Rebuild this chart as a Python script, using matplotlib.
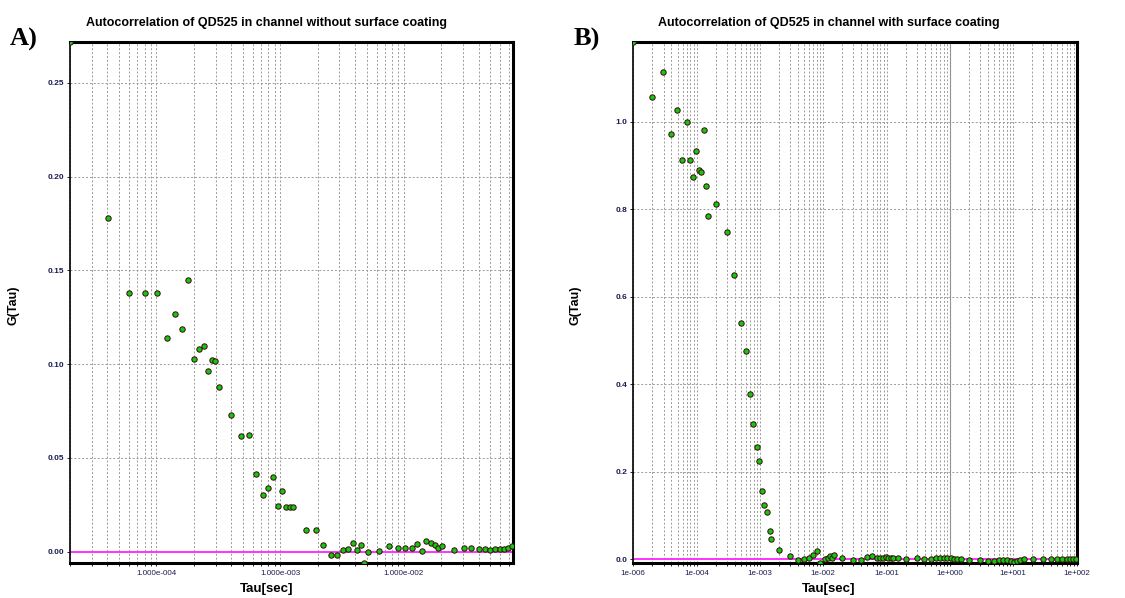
import numpy as np
import matplotlib
matplotlib.use("Agg")
import matplotlib.pyplot as plt
from matplotlib.ticker import FixedLocator, FixedFormatter, LogLocator, NullFormatter

# ============================================================
# DATA
# ============================================================

# A) without surface coating
tau_a = [2.0e-5, 4.03e-5, 6.0e-5, 8.0e-5, 1.01e-4, 1.205e-4, 1.40e-4, 1.60e-4, 1.81e-4,
         2.02e-4, 2.22e-4, 2.41e-4, 2.61e-4, 2.81e-4, 2.99e-4, 3.20e-4, 3.97e-4,
         4.79e-4, 5.62e-4, 6.40e-4, 7.21e-4, 7.96e-4, 8.73e-4, 9.58e-4, 1.04e-3,
         1.12e-3, 1.20e-3, 1.27e-3, 1.61e-3, 1.93e-3, 2.22e-3, 2.55e-3, 2.85e-3,
         3.20e-3, 3.53e-3, 3.85e-3, 4.15e-3, 4.47e-3, 4.79e-3, 5.09e-3, 6.32e-3,
         7.62e-3, 8.89e-3, 1.02e-2, 1.15e-2, 1.28e-2, 1.40e-2, 1.51e-2, 1.64e-2,
         1.77e-2, 1.90e-2, 2.02e-2, 2.55e-2, 3.03e-2, 3.51e-2, 4.03e-2, 4.50e-2,
         4.97e-2, 5.48e-2, 5.98e-2, 6.48e-2, 6.98e-2, 7.52e-2]
g_a = [0.272, 0.178, 0.138, 0.1377, 0.138, 0.114, 0.127, 0.119, 0.1448,
       0.103, 0.108, 0.1095, 0.0965, 0.102, 0.1015, 0.088, 0.0729,
       0.0615, 0.062, 0.0412, 0.0304, 0.034, 0.0396, 0.0245, 0.0322,
       0.024, 0.024, 0.024, 0.0114, 0.0114, 0.0037, -0.0018, -0.002,
       0.0009, 0.0014, 0.0048, 0.0007, 0.0037, -0.0059, -0.0004, 0.0005,
       0.003, 0.0021, 0.0021, 0.0018, 0.0039, 0.0004, 0.0057, 0.0044,
       0.0034, 0.0021, 0.003, 0.0007, 0.0021, 0.0021, 0.0016, 0.0016,
       0.0009, 0.0016, 0.0016, 0.0016, 0.0018, 0.003]

# B) with surface coating
tau_b = [1.0e-5, 2.0e-5, 2.98e-5, 3.94e-5, 4.83e-5, 5.80e-5, 7.04e-5, 7.94e-5, 8.85e-5,
         9.88e-5, 1.09e-4, 1.19e-4, 1.29e-4, 1.39e-4, 1.49e-4, 2.0e-4, 2.98e-4,
         3.94e-4, 4.96e-4, 5.94e-4, 7.04e-4, 7.85e-4, 8.97e-4, 9.76e-4, 1.09e-3,
         1.17e-3, 1.30e-3, 1.42e-3, 1.49e-3, 1.97e-3, 2.94e-3, 3.93e-3, 4.89e-3,
         5.86e-3, 6.87e-3, 8.04e-3, 8.97e-3, 1.06e-2, 1.17e-2, 1.29e-2, 1.37e-2,
         1.47e-2, 1.95e-2, 2.94e-2, 3.98e-2, 5.0e-2, 5.94e-2, 6.95e-2, 7.85e-2,
         8.86e-2, 9.76e-2, 0.106, 0.117, 0.127, 0.149, 0.2, 0.298, 0.394, 0.495,
         0.594, 0.695, 0.804, 0.908, 1.03, 1.16, 1.31, 1.49, 2.0, 2.98, 3.93,
         4.96, 5.94, 6.95, 8.04, 9.08, 10.3, 11.6, 12.9, 14.9, 20.2, 29.8, 39.4,
         50.1, 60.1, 70.3, 79.4, 88.5, 97.5]
g_b = [1.183, 1.056, 1.114, 0.973, 1.028, 0.913, 0.999, 0.913, 0.874,
       0.934, 0.889, 0.885, 0.981, 0.853, 0.784, 0.813, 0.747,
       0.651, 0.540, 0.476, 0.377, 0.309, 0.256, 0.224, 0.156,
       0.124, 0.108, 0.065, 0.046, 0.021, 0.007, -0.001, 0.0015,
       0.004, 0.009, 0.020, -0.0076, 0.0015, 0.004, 0.0076, 0.004,
       0.011, 0.004, -0.001, -0.001, 0.005, 0.007, 0.004, 0.004,
       0.004, 0.006, 0.004, 0.004, 0.002, 0.004, 0.0015, 0.002, 0.0015, 0.0015,
       0.002, 0.002, 0.002, 0.002, 0.002, 0.0015, 0.0015, 0.0, -0.001, -0.002, -0.004,
       -0.004, -0.002, -0.001, -0.002, -0.004, -0.005, -0.004, -0.001, 0.0015, 0.0015, 0.0015, 0.0015,
       0.0015, 0.0015, 0.0015, 0.0015, 0.0015, 0.0015]

ticks_a = [1e-4, 1e-3, 1e-2]
ticklabels_a = ["1.000e-004", "1.000e-003", "1.000e-002"]
yticks_a = [0.0, 0.05, 0.10, 0.15, 0.20, 0.25]

ticks_b = [1e-5, 1e-4, 1e-3, 1e-2, 1e-1, 1e0, 1e1, 1e2]
ticklabels_b = ["1e-006", "1e-004", "1e-003", "1e-002", "1e-001", "1e+000", "1e+001", "1e+002"]
yticks_b = [0.0, 0.2, 0.4, 0.6, 0.8, 1.0]

titles = ["Autocorrelation of QD525 in channel without surface coating",
          "Autocorrelation of QD525 in channel with surface coating"]

# ============================================================
# FIGURE
# ============================================================

narrow = ["Liberation Sans Narrow", "Liberation Sans", "DejaVu Sans"]
plt.rcParams["font.family"] = narrow

fig = plt.figure(figsize=(11.25, 5.98), dpi=100)
ax_a = fig.add_axes([70 / 1125, 1 - 562.7 / 598, (513 - 70) / 1125, (562.7 - 41.7) / 598])
ax_b = fig.add_axes([633.3 / 1125, 1 - 562.7 / 598, (1076.5 - 633.3) / 1125, (562.7 - 41.7) / 598])

tick_col = "#1c1c50"


def style_axes(ax, xlim, ylim, xt, xtl, yt, ytl):
    ax.set_xscale("log")
    ax.set_xlim(*xlim)
    ax.set_ylim(*ylim)
    ax.xaxis.set_major_locator(FixedLocator(xt))
    ax.xaxis.set_major_formatter(FixedFormatter(xtl))
    ax.xaxis.set_minor_locator(LogLocator(base=10, subs=np.arange(2, 10), numticks=20))
    ax.xaxis.set_minor_formatter(NullFormatter())
    ax.set_yticks(yt)
    ax.set_yticklabels(ytl)
    ax.grid(True, which="both", axis="x", color="#9a9a9a", linestyle=(0, (2, 2)), linewidth=0.7)
    ax.grid(True, which="major", axis="y", color="#9a9a9a", linestyle=(0, (2, 2)), linewidth=0.7)
    ax.tick_params(axis="both", which="both", labelsize=6, labelcolor=tick_col,
                   length=2.5, width=0.6, pad=2)
    ax.tick_params(axis="x", labelsize=5.8, pad=3)
    for lab in ax.get_yticklabels():
        lab.set_fontweight("bold")
    ax.spines["left"].set_linewidth(1.2)
    for s in ["top", "right", "bottom"]:
        ax.spines[s].set_linewidth(2.2)
    ax.axhline(0, color="#ff33ff", linewidth=1.4, zorder=2)


style_axes(ax_a, (2e-5, 7.6e-2), (-0.0059, 0.272), ticks_a, ticklabels_a,
           yticks_a, ["0.00", "0.05", "0.10", "0.15", "0.20", "0.25"])
style_axes(ax_b, (1e-5, 1e2), (-0.0076, 1.183), ticks_b, ticklabels_b,
           yticks_b, ["0.0", "0.2", "0.4", "0.6", "0.8", "1.0"])
ax_b.axvline(1.0, color="#8c8c8c", linewidth=0.8, zorder=1)

for ax, t, g in [(ax_a, tau_a, g_a), (ax_b, tau_b, g_b)]:
    ax.scatter(t, g, s=15, color="#12c812", edgecolors="#3a0808", linewidths=0.7, zorder=3)

# titles, axis labels and panel letters
fig.text(266 / 1125, 1 - 23 / 598, titles[0], ha="center", va="center",
         fontsize=9, fontweight="bold")
fig.text(829 / 1125, 1 - 23 / 598, titles[1], ha="center", va="center",
         fontsize=9, fontweight="bold")
fig.text(267 / 1125, 1 - 589 / 598, "Tau[sec]", ha="center", va="center",
         fontsize=9.5, fontweight="bold")
fig.text(829 / 1125, 1 - 589 / 598, "Tau[sec]", ha="center", va="center",
         fontsize=9.5, fontweight="bold")
fig.text(13 / 1125, 1 - 305 / 598, "G(Tau)", ha="center", va="center",
         rotation=90, fontsize=9, fontweight="bold")
fig.text(575 / 1125, 1 - 305 / 598, "G(Tau)", ha="center", va="center",
         rotation=90, fontsize=9, fontweight="bold")
fig.text(10 / 1125, 1 - 39 / 598, "A)", ha="left", va="center",
         fontsize=19, family="Liberation Serif", fontweight="bold")
fig.text(574 / 1125, 1 - 39 / 598, "B)", ha="left", va="center",
         fontsize=19, family="Liberation Serif", fontweight="bold")

fig.savefig("out.png", dpi=100)
